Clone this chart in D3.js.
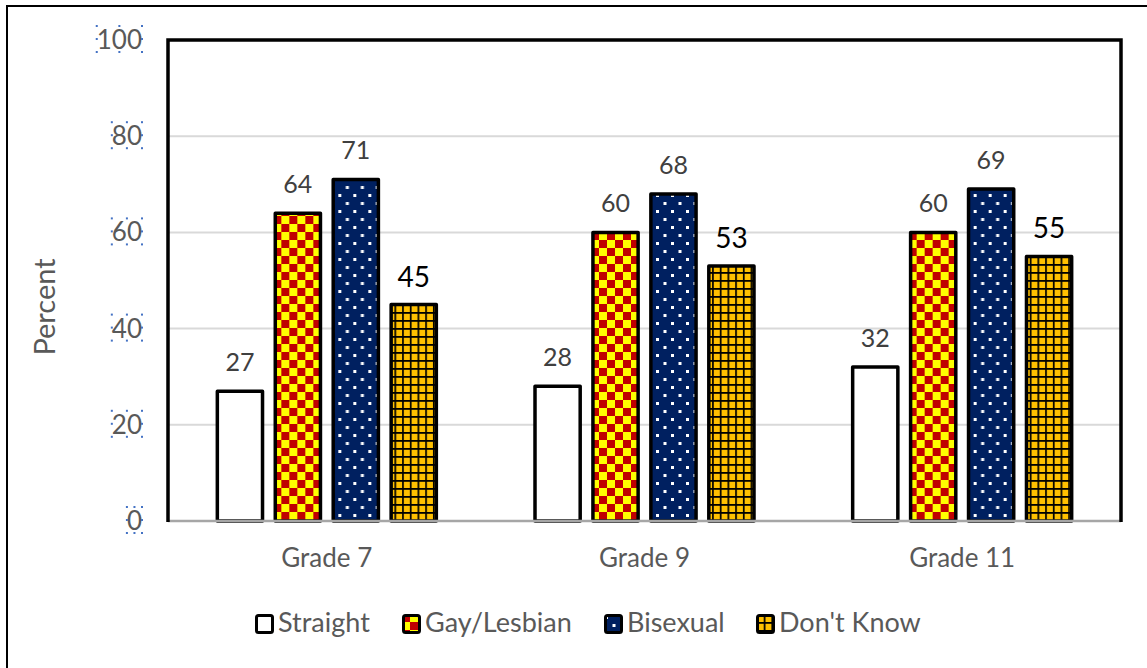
<!DOCTYPE html>
<html>
<head>
<meta charset="utf-8">
<script src="https://cdn.jsdelivr.net/npm/d3@7"></script>
<style>
  body { margin: 0; background: #fff; }
  svg { display: block; font-family: Lato, "Open Sans", sans-serif; }
</style>
</head>
<body>
<svg width="1147" height="668"></svg>
<script>
var grades = ["Grade 7", "Grade 9", "Grade 11"];
var groups = ["Straight", "Gay/Lesbian", "Bisexual", "Don't Know"];
var straight = [27, 28, 32];
var gayLesbian = [64, 60, 60];
var bisexual = [71, 68, 69];
var dontKnow = [45, 53, 55];
var yTicks = [0, 20, 40, 60, 80, 100];

var seriesValues = [straight, gayLesbian, bisexual, dontKnow];
var fills = ["#fff", "url(#checker)", "url(#dots)", "url(#grid)"];

var svg = d3.select("svg"),
  width = +svg.attr("width"),
  height = +svg.attr("height");

var plot = { left: 168, right: 1121, top: 40, bottom: 521 };

// patterns
var defs = svg.append("defs");
var checker = defs.append("pattern").attr("id", "checker")
  .attr("patternUnits", "userSpaceOnUse").attr("width", 16).attr("height", 16);
checker.append("rect").attr("width", 16).attr("height", 16).attr("fill", "#ffff00");
checker.append("rect").attr("width", 8).attr("height", 8).attr("fill", "#c00000");
checker.append("rect").attr("x", 8).attr("y", 8).attr("width", 8).attr("height", 8).attr("fill", "#c00000");

var dots = defs.append("pattern").attr("id", "dots")
  .attr("patternUnits", "userSpaceOnUse").attr("width", 15).attr("height", 16);
dots.append("rect").attr("width", 15).attr("height", 16).attr("fill", "#002060");
dots.append("rect").attr("x", 1).attr("y", 2).attr("width", 3).attr("height", 3).attr("fill", "#fff");
dots.append("rect").attr("x", 8.5).attr("y", 10).attr("width", 3).attr("height", 3).attr("fill", "#fff");

var grid = defs.append("pattern").attr("id", "grid")
  .attr("patternUnits", "userSpaceOnUse").attr("width", 7.7).attr("height", 8);
grid.append("rect").attr("width", 7.7).attr("height", 8).attr("fill", "#000");
grid.append("rect").attr("x", 1.7).attr("y", 1.8).attr("width", 6).attr("height", 6.2).attr("fill", "#ffc000");

// outer frame (left and top edges visible)
svg.append("line").attr("x1", 7).attr("x2", 7).attr("y1", 5).attr("y2", height)
  .attr("stroke", "#000").attr("stroke-width", 2);
svg.append("line").attr("x1", 6).attr("x2", width).attr("y1", 6).attr("y2", 6)
  .attr("stroke", "#000").attr("stroke-width", 2);

var x0 = d3.scaleBand().domain(grades).range([plot.left, plot.right]);
var x1 = d3.scaleBand().domain(groups).range([0, 219]).paddingInner(0.22);
var y = d3.scaleLinear().domain([0, 100]).range([plot.bottom, plot.top]);

// gridlines
svg.append("g").selectAll("line")
  .data(yTicks.filter(function(d) { return d > 0 && d < 100; }))
  .enter().append("line")
  .attr("x1", plot.left).attr("x2", plot.right)
  .attr("y1", function(d) { return y(d); }).attr("y2", function(d) { return y(d); })
  .attr("stroke", "#d9d9d9").attr("stroke-width", 2);

// bars
var gGroups = svg.append("g").selectAll("g")
  .data(grades)
  .enter().append("g")
  .attr("transform", function(d) { return "translate(" + (x0(d) + x0.bandwidth() / 2 - 109.5) + ",0)"; });

gGroups.each(function(grade, gi) {
  var g = d3.select(this);
  groups.forEach(function(s, si) {
    var v = seriesValues[si][gi];
    g.append("rect")
      .attr("x", x1(s))
      .attr("y", y(v))
      .attr("width", x1.bandwidth())
      .attr("height", y(0) - y(v))
      .attr("fill", fills[si])
      .attr("stroke", "#000")
      .attr("stroke-width", 3.5)
      .attr("stroke-linejoin", "round");
    var big = si === 3;
    g.append("text")
      .attr("x", x1(s) + x1.bandwidth() / 2)
      .attr("y", y(v) - (big ? 18 : 20))
      .attr("text-anchor", "middle")
      .attr("fill", big ? "#000" : "#404040")
      .attr("font-size", big ? 28 : 25)
      .text(v);
  });
});

// axis baseline
svg.append("line").attr("x1", plot.left).attr("x2", plot.right)
  .attr("y1", y(0)).attr("y2", y(0)).attr("stroke", "#a6a6a6").attr("stroke-width", 2.5);

// plot frame
svg.append("path")
  .attr("d", "M" + plot.left + "," + (plot.bottom + 1) + "V" + plot.top + "H" + plot.right + "V" + (plot.bottom + 1))
  .attr("fill", "none").attr("stroke", "#000").attr("stroke-width", 3.5);

// y tick labels
var yLabels = svg.append("g").selectAll("text")
  .data(yTicks)
  .enter().append("text")
  .attr("x", 142)
  .attr("y", function(d) { return y(d) + 9; })
  .attr("text-anchor", "end")
  .attr("fill", "#595959")
  .attr("font-size", 26)
  .text(function(d) { return d; });

// selection handles around tick labels
yLabels.each(function() {
  var b = this.getBBox();
  var xs = [b.x, b.x + b.width / 2, b.x + b.width];
  var ys = [b.y + 3, b.y + b.height / 2, b.y + b.height - 3];
  var parent = d3.select(this.parentNode);
  xs.forEach(function(px, i) {
    ys.forEach(function(py, j) {
      if (i === 1 && j === 1) return;
      parent.append("rect").attr("x", px - 1).attr("y", py - 1)
        .attr("width", 2).attr("height", 2).attr("fill", "#4472c4");
    });
  });
});

// x labels
svg.append("g").selectAll("text")
  .data(grades)
  .enter().append("text")
  .attr("x", function(d) { return x0(d) + x0.bandwidth() / 2; })
  .attr("y", 567)
  .attr("text-anchor", "middle")
  .attr("fill", "#595959")
  .attr("font-size", 26)
  .text(function(d) { return d; });

// y title
svg.append("text")
  .attr("transform", "translate(55,307) rotate(-90)")
  .attr("text-anchor", "middle")
  .attr("fill", "#595959")
  .attr("font-size", 29)
  .text("Percent");

// legend
var legendX = [255, 402, 604, 756];
var legend = svg.append("g").selectAll("g")
  .data(groups)
  .enter().append("g")
  .attr("transform", function(d, i) { return "translate(" + legendX[i] + ",614)"; });
legend.append("rect")
  .attr("x", 1.5).attr("y", 1.5).attr("width", 16).attr("height", 17)
  .attr("rx", 2)
  .attr("fill", function(d, i) { return fills[i]; })
  .attr("stroke", "#000").attr("stroke-width", 3);
legend.append("text")
  .attr("x", 23).attr("y", 18)
  .attr("fill", "#595959")
  .attr("font-size", 27)
  .text(function(d) { return d; });
</script>
</body>
</html>
